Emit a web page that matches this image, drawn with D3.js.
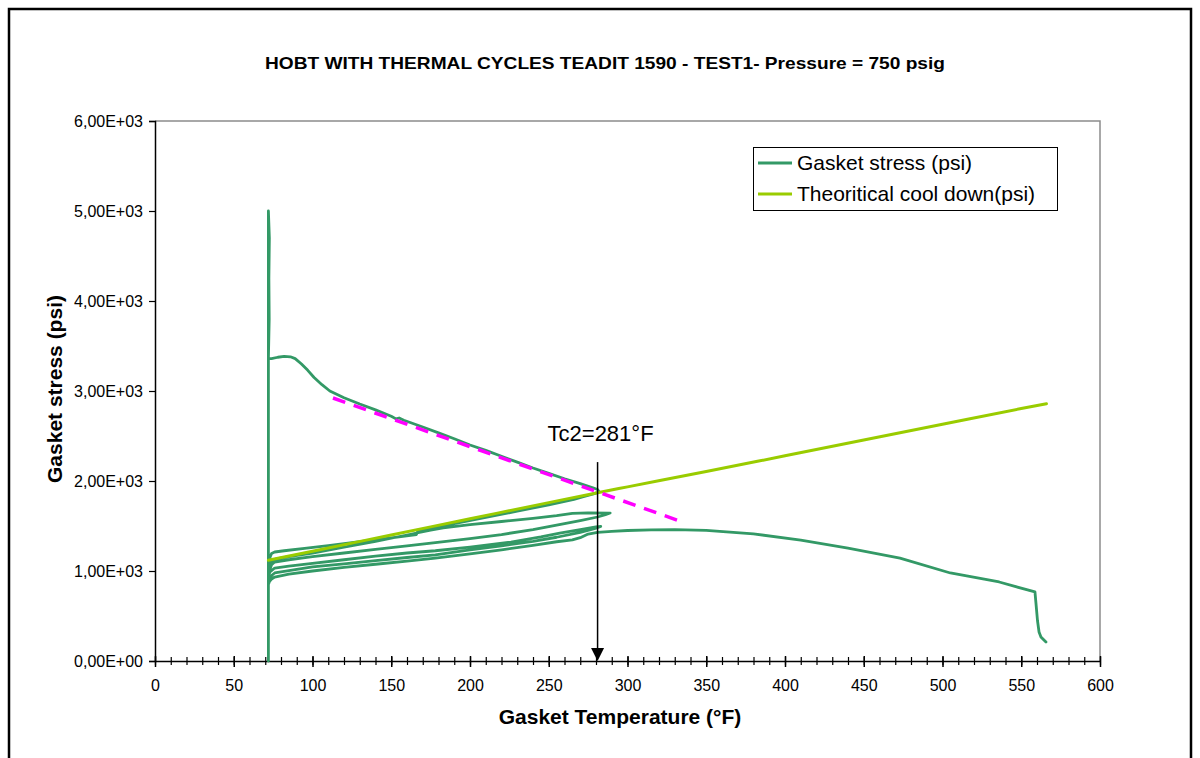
<!DOCTYPE html>
<html>
<head>
<meta charset="utf-8">
<script src="https://cdn.jsdelivr.net/npm/d3@7"></script>
<style>
html,body{margin:0;padding:0;background:#fff;}
svg{display:block;font-family:Arial,"Liberation Sans",sans-serif;}
</style>
</head>
<body>
<svg id="chart" width="1200" height="758"></svg>
<script>
// ---------------- DATA ----------------
const titleText = "HOBT WITH THERMAL CYCLES TEADIT 1590 - TEST1- Pressure = 750 psig";
const xTitle = "Gasket Temperature (°F)";
const yTitle = "Gasket stress (psi)";
const seriesNames = ["Gasket stress (psi)", "Theoritical cool down(psi)"];

const xTicks = [0,50,100,150,200,250,300,350,400,450,500,550,600];
const xTickLabels = ["0","50","100","150","200","250","300","350","400","450","500","550","600"];
const yTicks = [0,1000,2000,3000,4000,5000,6000];
const yTickLabels = ["0,00E+00","1,00E+03","2,00E+03","3,00E+03","4,00E+03","5,00E+03","6,00E+03"];

// Gasket stress measured (temperature °F, stress psi), in recorded order
const gasketTemp = [
 72,72,72,72,72,72.6,72.3,72.5,72,
 74,78,82,86,89,93,97,101,106,111,120,130,140,150,153,155,158,170,180,190,200,210,220,230,240,250,260,270,278,281,
 282,279,272,266,250,230,210,190,175,167,166,150,130,110,95,82,76,74,73,72,72,
 72.5,74,77,85,100,120,140,160,175,183,200,220,240,255,265,275,289,
 286,281,270,255,240,220,200,178,160,140,120,100,85,76,74,73,72,
 73,76,85,100,120,140,160,178,200,226,245,257,270,280,283,
 279,270,255,240,220,200,178,160,140,120,100,85,76,74,73,72,
 72.5,74,76,85,100,120,140,160,178,200,220,240,255,265,270,275,281,290,300,315,330,350,380,410,440,473,505,536,558.7,559.3,560.3,561.3,562.5,565.7
];
const gasketStress = [
 0,1500,3000,4200,5000,4700,4250,3800,3360,
 3360,3375,3385,3380,3360,3300,3230,3150,3070,3000,2925,2855,2790,2720,2690,2700,2675,2600,2535,2470,2400,2340,2275,2210,2145,2085,2025,1970,1925,1905,
 1880,1860,1825,1795,1735,1665,1595,1525,1475,1450,1405,1368,1325,1283,1252,1225,1211,1195,1150,1060,960,
 1040,1100,1135,1160,1200,1265,1330,1400,1455,1480,1515,1550,1585,1615,1640,1645,1644,
 1625,1600,1560,1510,1460,1405,1360,1315,1280,1240,1200,1160,1125,1100,1070,1020,940,
 990,1033,1055,1085,1125,1165,1200,1225,1265,1322,1380,1422,1460,1490,1495,
 1470,1430,1375,1330,1280,1235,1180,1150,1115,1080,1045,1005,978,950,900,850,
 880,910,933,965,1000,1040,1075,1110,1144,1190,1235,1285,1325,1345,1370,1410,1430,1440,1450,1458,1460,1452,1412,1344,1255,1144,978,878,767,650,450,322,267,211
];

// Theoretical cool down
const theoTemp   = [72,100,150,200,250,281,300,350,400,450,500,550,566];
const theoStress = [1120,1220,1400,1580,1760,1870,1935,2105,2280,2455,2630,2805,2858];

// Dashed magenta trend line
const trendTemp   = [113,333];
const trendStress = [2922,1556];

// Annotation: Tc2 arrow
const tc2Temp = 281;
const tc2ArrowTop = 2210;
const tc2Label = "Tc2=281°F";
const tc2LabelStress = 2456;

// ---------------- CHART ----------------
const svg = d3.select("#chart");
const W = 1200, H = 758;
const plot = {left:155, right:1100, top:121, bottom:661};

const x = d3.scaleLinear().domain([0,600]).range([plot.left, plot.right]);
const y = d3.scaleLinear().domain([0,6000]).range([plot.bottom, plot.top]);

svg.append("rect").attr("x",0).attr("y",0).attr("width",W).attr("height",H).attr("fill","#fff");
// outer frame
svg.append("rect").attr("x",9).attr("y",9).attr("width",1182).attr("height",770)
  .attr("fill","none").attr("stroke","#000").attr("stroke-width",2.5);

// plot area border (top/right gray)
svg.append("path")
  .attr("d",`M${plot.left},${plot.top}H${plot.right}V${plot.bottom}`)
  .attr("fill","none").attr("stroke","#8c8c8c").attr("stroke-width",1.5);

// title
svg.append("text").attr("x",605).attr("y",69).attr("text-anchor","middle")
  .attr("font-weight","bold").attr("font-size",16.5).text(titleText)
  .attr("textLength",680).attr("lengthAdjust","spacingAndGlyphs");

// y axis
const yAxis = svg.append("g").attr("transform",`translate(${plot.left},0)`)
  .call(d3.axisLeft(y).tickValues(yTicks).tickSize(6).tickFormat((d,i)=>yTickLabels[i]));
yAxis.select(".domain").attr("stroke","#000").attr("stroke-width",1.5);
yAxis.selectAll(".tick line").attr("stroke","#000").attr("stroke-width",1.2);
yAxis.selectAll(".tick text").attr("x",-12).attr("dy","0.35em")
  .attr("font-size",16).attr("fill","#000").attr("font-family","Arial,'Liberation Sans',sans-serif");

// x axis minor ticks
const xMinor = svg.append("g").attr("transform",`translate(0,${plot.bottom})`)
  .call(d3.axisBottom(x).tickValues(d3.range(0,601,10)).tickSize(4).tickFormat(""));
xMinor.selectAll(".tick line").attr("y1",-4).attr("stroke","#000").attr("stroke-width",1.2);
xMinor.select(".domain").remove();
// x axis major
const xAxis = svg.append("g").attr("transform",`translate(0,${plot.bottom})`)
  .call(d3.axisBottom(x).tickValues(xTicks).tickSize(6).tickSizeOuter(0).tickFormat((d,i)=>xTickLabels[i]));
xAxis.select(".domain").attr("stroke","#000").attr("stroke-width",1.5);
xAxis.selectAll(".tick line").attr("y1",-5).attr("stroke","#000").attr("stroke-width",1.5);
xAxis.selectAll(".tick text").attr("y",19).attr("dy","0.71em").attr("font-size",16).attr("fill","#000")
  .attr("font-family","Arial,'Liberation Sans',sans-serif");

// axis titles
svg.append("text").attr("x",620).attr("y",724).attr("text-anchor","middle")
  .attr("font-weight","bold").attr("font-size",21).text(xTitle);
svg.append("text").attr("transform","translate(62,389) rotate(-90)").attr("text-anchor","middle")
  .attr("font-weight","bold").attr("font-size",21).text(yTitle);

// lines
const line = d3.line().x(d=>x(d[0])).y(d=>y(d[1]));
const gasketPts = gasketTemp.map((t,i)=>[t,gasketStress[i]]);
const theoPts = theoTemp.map((t,i)=>[t,theoStress[i]]);
const trendPts = trendTemp.map((t,i)=>[t,trendStress[i]]);

svg.append("path").datum(gasketPts).attr("d",line)
  .attr("fill","none").attr("stroke","#339966").attr("stroke-width",2.8)
  .attr("stroke-linejoin","round").attr("stroke-linecap","round");
svg.append("path").datum(theoPts).attr("d",d3.line().x(d=>x(d[0])).y(d=>y(d[1])).curve(d3.curveMonotoneX))
  .attr("fill","none").attr("stroke","#99CC00").attr("stroke-width",3)
  .attr("stroke-linecap","round");
svg.append("path").datum(trendPts).attr("d",line)
  .attr("fill","none").attr("stroke","#FF00FF").attr("stroke-width",3.5)
  .attr("stroke-dasharray","13,9");

// arrow annotation
const ax = x(tc2Temp);
svg.append("line").attr("x1",ax).attr("x2",ax).attr("y1",y(tc2ArrowTop)).attr("y2",y(0)-12)
  .attr("stroke","#000").attr("stroke-width",1.5);
svg.append("path").attr("d",`M${ax-6.5},${y(0)-13}L${ax+6.5},${y(0)-13}L${ax},${y(0)}Z`).attr("fill","#000");
svg.append("text").attr("x",ax+3).attr("y",y(tc2LabelStress)+1).attr("text-anchor","middle")
  .attr("font-size",22).text(tc2Label);

// legend
const lg = svg.append("g");
lg.append("rect").attr("x",753.5).attr("y",147.5).attr("width",304).attr("height",63)
  .attr("fill","#fff").attr("stroke","#000").attr("stroke-width",1);
const legColors = ["#339966","#99CC00"];
const legY = [163,194];
seriesNames.forEach((n,i)=>{
  lg.append("line").attr("x1",758).attr("x2",792).attr("y1",legY[i]).attr("y2",legY[i])
    .attr("stroke",legColors[i]).attr("stroke-width",3);
  lg.append("text").attr("x",797).attr("y",legY[i]+7).attr("font-size",21).text(n);
});
</script>
</body>
</html>
